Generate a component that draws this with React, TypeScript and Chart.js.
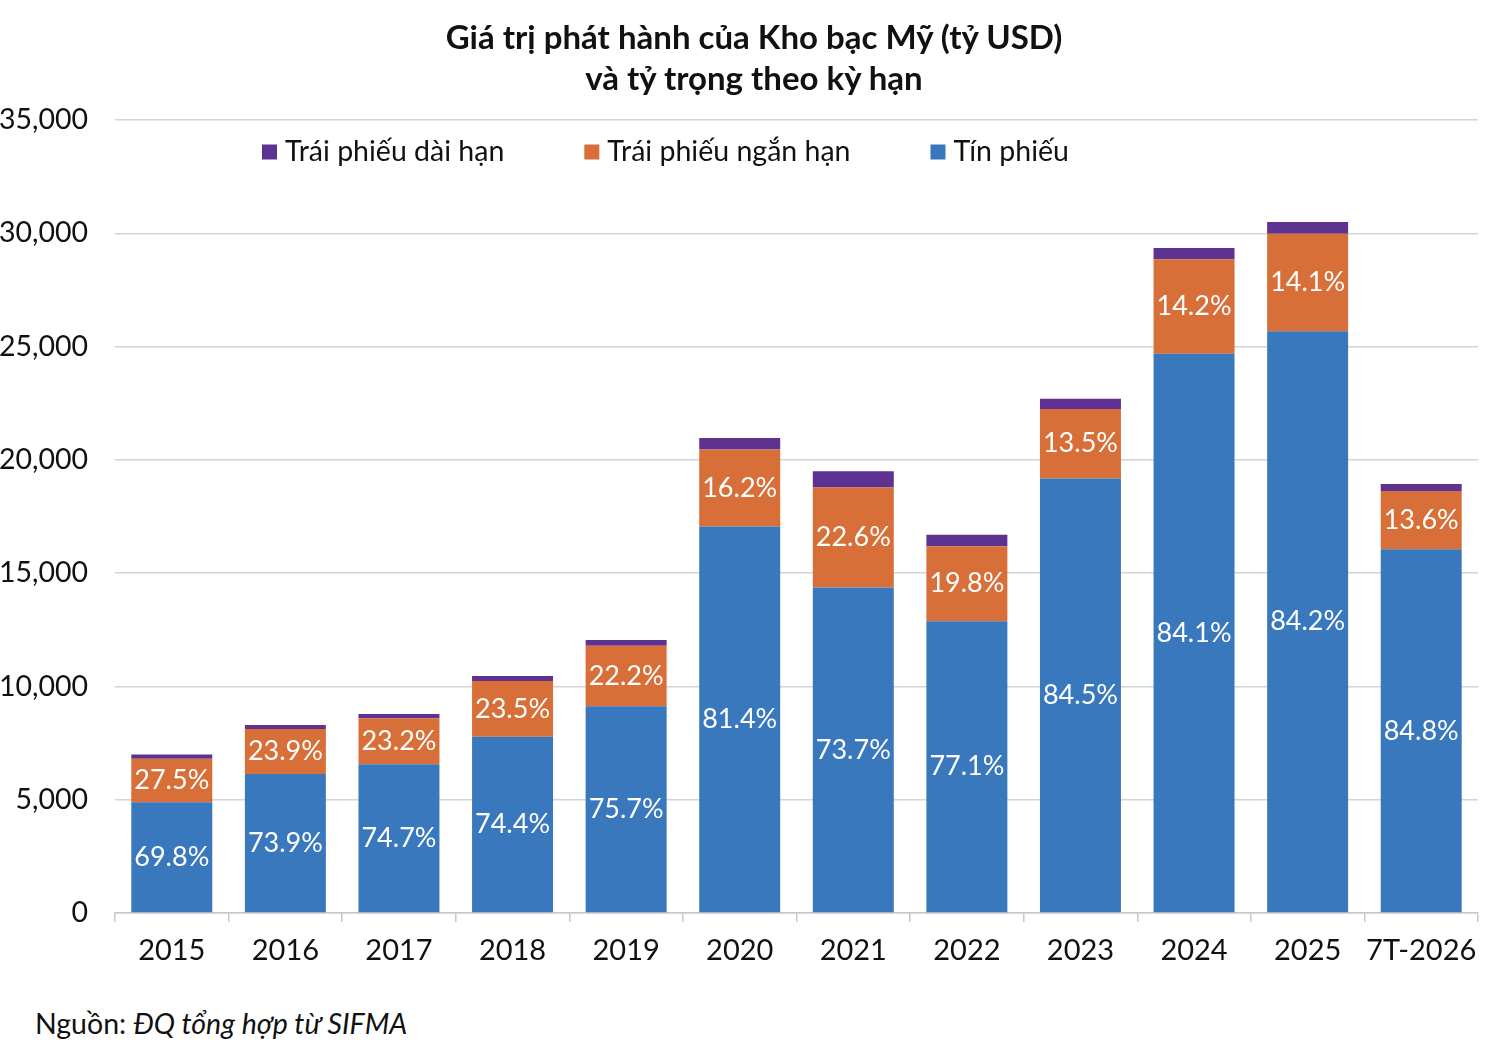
import React, { useEffect, useRef } from "react";
import { Chart, registerables } from "chart.js";

Chart.register(...registerables);

const years = ["2015", "2016", "2017", "2018", "2019", "2020", "2021", "2022", "2023", "2024", "2025", "7T-2026"];
// tỷ USD
const bills = [4890, 6140, 6560, 7780, 9120, 17060, 14370, 12880, 19180, 24680, 25680, 16050];
const shortNotes = [1920, 1980, 2040, 2460, 2680, 3400, 4410, 3310, 3070, 4170, 4300, 2580];
const longBonds = [190, 180, 180, 220, 250, 500, 720, 510, 450, 500, 520, 300];
const billsShare = ["69.8%", "73.9%", "74.7%", "74.4%", "75.7%", "81.4%", "73.7%", "77.1%", "84.5%", "84.1%", "84.2%", "84.8%"];
const notesShare = ["27.5%", "23.9%", "23.2%", "23.5%", "22.2%", "16.2%", "22.6%", "19.8%", "13.5%", "14.2%", "14.1%", "13.6%"];

const FONT = "Lato, 'Noto Sans', sans-serif";

const shareLabels = {
  id: "shareLabels",
  afterDatasetsDraw(chart: any) {
    const ctx = chart.ctx;
    ctx.save();
    ctx.fillStyle = "#ffffff";
    ctx.font = `27px ${FONT}`;
    ctx.textAlign = "center";
    ctx.textBaseline = "middle";
    [billsShare, notesShare].forEach((labels, di) => {
      const meta = chart.getDatasetMeta(di === 0 ? 2 : 1);
      meta.data.forEach((bar: any, i: number) => {
        const y = (bar.y + bar.base) / 2;
        ctx.fillText(labels[i], bar.x, y);
      });
    });
    ctx.restore();
  },
};

// legend drawn inside the plot, one row
const insideLegend = {
  id: "insideLegend",
  afterDraw(chart: any) {
    const ctx = chart.ctx;
    const area = chart.chartArea;
    ctx.save();
    ctx.font = `28.5px ${FONT}`;
    ctx.textBaseline = "middle";
    ctx.textAlign = "left";
    let x = area.left + 147;
    const y = area.top + 32;
    chart.data.datasets.forEach((ds: any) => {
      ctx.fillStyle = ds.backgroundColor;
      ctx.fillRect(x, y - 7.5, 15, 15);
      ctx.fillStyle = "#111";
      ctx.fillText(ds.label, x + 23, y);
      x += 23 + ctx.measureText(ds.label).width + 80;
    });
    ctx.restore();
  },
};

const IssuanceChart: React.FC = () => {
  const canvasRef = useRef<HTMLCanvasElement | null>(null);
  const chartRef = useRef<Chart | null>(null);

  useEffect(() => {
    const ctx = canvasRef.current?.getContext("2d");
    if (!ctx) return;
    if (chartRef.current) chartRef.current.destroy();
    chartRef.current = new Chart(ctx, {
      type: "bar",
      data: {
        labels: years,
        datasets: [
          {
            label: "Trái phiếu dài hạn",
            data: longBonds,
            backgroundColor: "#5e3290",
            order: 3,
          },
          {
            label: "Trái phiếu ngắn hạn",
            data: shortNotes,
            backgroundColor: "#d86f38",
            order: 2,
          },
          {
            label: "Tín phiếu",
            data: bills,
            backgroundColor: "#3a78be",
            order: 1,
          },
        ],
      },
      options: {
        responsive: false,
        animation: false,
        layout: { padding: { left: 0, right: 26, top: 120, bottom: 0 } },
        datasets: {
          bar: { barPercentage: 0.713, categoryPercentage: 1, borderWidth: 0 },
        },
        scales: {
          x: {
            stacked: true,
            grid: {
              display: true,
              offset: true,
              drawOnChartArea: false,
              drawTicks: true,
              tickLength: 9,
              color: "#c8c8c8",
              lineWidth: 1.5,
            },
            border: { display: true, color: "#c8c8c8", width: 1.5 },
            ticks: {
              color: "#111",
              font: { family: FONT, size: 29 },
              padding: 11,
              maxRotation: 0,
              autoSkip: false,
            },
            afterFit: (s: any) => {
              s.height = 77;
            },
          },
          y: {
            stacked: true,
            min: 0,
            max: 35000,
            ticks: {
              stepSize: 5000,
              color: "#111",
              font: { family: FONT, size: 28.5 },
              padding: 27,
              callback: (v: any) => Number(v).toLocaleString("en-US"),
            },
            grid: { color: "#d4d4d4", lineWidth: 1.5, drawTicks: false },
            border: { display: false },
            afterFit: (s: any) => {
              s.width = 115;
            },
          },
        },
        plugins: {
          legend: { display: false },
          tooltip: { enabled: false },
          title: { display: false },
        },
      },
      plugins: [shareLabels, insideLegend],
    } as any);

    return () => {
      if (chartRef.current) {
        chartRef.current.destroy();
        chartRef.current = null;
      }
    };
  }, []);

  return <canvas ref={canvasRef} width={1504} height={990} style={{ display: "block" }} />;
};

export default function App() {
  return (
    <div
      style={{
        position: "fixed",
        left: 0,
        top: 0,
        width: 1504,
        height: 1050,
        background: "#fff",
        fontFamily: FONT,
        color: "#111",
      }}
    >
      <div
        style={{
          position: "absolute",
          left: 0,
          top: 16,
          width: 1508,
          textAlign: "center",
          fontWeight: "bold",
          fontSize: 33,
          lineHeight: "41px",
        }}
      >
        Giá trị phát hành của Kho bạc Mỹ (tỷ USD)
        <br />
        và tỷ trọng theo kỳ hạn
      </div>
      <IssuanceChart />
      <div style={{ position: "absolute", left: 35, top: 1006, fontSize: 28.5 }}>
        Nguồn: <i>ĐQ tổng hợp từ SIFMA</i>
      </div>
    </div>
  );
}
